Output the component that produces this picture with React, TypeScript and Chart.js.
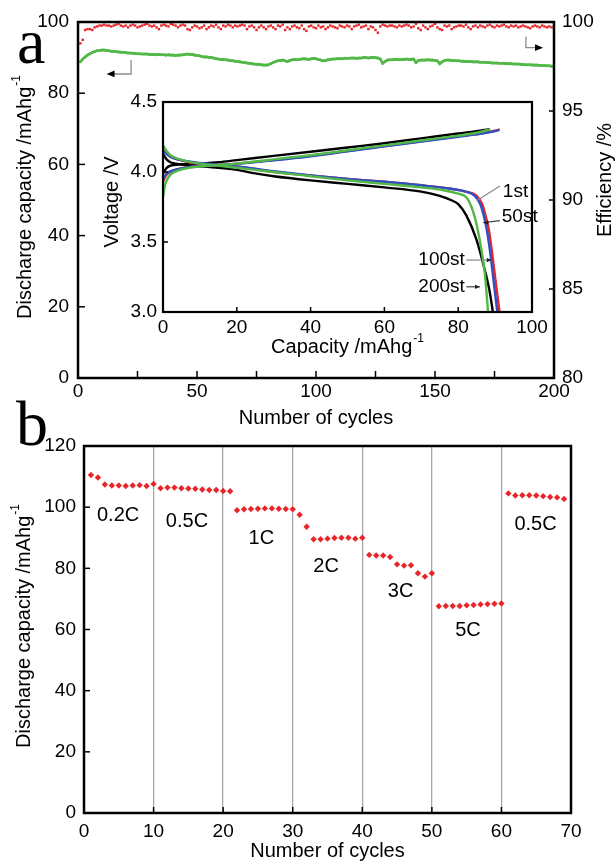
import React, { useEffect, useRef } from "react";
import { Chart, registerables } from "chart.js";

Chart.register(...registerables);

const SANS = "'Liberation Sans', Arial, Helvetica, sans-serif";
const SERIF = "'Liberation Serif', 'Times New Roman', serif";

const GREEN = "#52b848";
const RED = "#e8262a";
const BLUE = "#2f4fc4";
const BLACK = "#000000";

// ---------- Panel a: cycling at constant rate ----------
const cycleCapacity = [
  88.8, 89.6, 90.2, 90.7, 91.1, 91.4, 91.7, 91.9, 92.0, 92.1,
  92.1, 92.0, 91.9, 91.8, 91.7, 91.7, 91.6, 91.5, 91.5, 91.4,
  91.3, 91.3, 91.2, 91.2, 91.1, 91.1, 91.0, 91.0, 91.0, 90.9,
  90.9, 90.9, 90.8, 90.9, 90.8, 90.8, 90.7, 90.8, 90.7, 90.7,
  90.6, 90.7, 90.7, 90.8, 90.9, 91.0, 90.9, 90.9, 90.7, 90.6,
  90.5, 90.3, 90.2, 90.2, 90.1, 90.0, 89.9, 89.7, 89.6, 89.5,
  89.5, 89.4, 89.3, 89.2, 89.1, 89.0, 88.9, 88.8, 88.7, 88.6,
  88.5, 88.4, 88.3, 88.2, 88.1, 88.1, 88.0, 87.9, 87.9, 88.0,
  88.3, 88.6, 88.9, 89.1, 89.2, 89.3, 89.1, 88.9, 89.2, 89.4,
  89.5, 89.4, 89.5, 89.6, 89.7, 89.6, 89.5, 89.7, 89.8, 89.7,
  89.5, 89.3, 89.1, 89.2, 89.4, 89.5, 89.6, 89.6, 89.7, 89.7,
  89.7, 89.8, 89.8, 89.8, 89.9, 89.9, 89.8, 89.9, 89.9, 90.0,
  90.0, 89.9, 90.0, 90.0, 90.0, 89.9, 89.6, 88.4, 88.9, 89.3,
  89.4, 89.4, 89.5, 89.5, 89.4, 89.5, 89.5, 89.6, 89.5, 89.5,
  89.6, 88.6, 89.2, 89.3, 89.3, 89.3, 89.4, 89.3, 89.3, 89.2,
  89.1, 88.3, 88.8, 89.2, 89.3, 89.3, 89.2, 89.2, 89.1, 89.1,
  89.0, 89.0, 88.9, 88.9, 88.9, 88.8, 88.8, 88.8, 88.7, 88.7,
  88.7, 88.6, 88.6, 88.5, 88.5, 88.5, 88.4, 88.4, 88.4, 88.3,
  88.3, 88.3, 88.2, 88.2, 88.2, 88.1, 88.1, 88.0, 88.0, 88.0,
  87.9, 87.9, 87.9, 87.8, 87.8, 87.8, 87.7, 87.7, 87.6, 87.6,
];

const cycleEfficiency = [
  98.8, 99.0, 99.55, 99.6, 99.6, 99.55, 99.7, 99.75, 99.8, 99.8,
  99.85, 99.8, 99.8, 99.75, 99.8, 99.85, 99.9, 99.8, 99.75, 99.8,
  99.7, 99.8, 99.85, 99.8, 99.7, 99.75, 99.8, 99.85, 99.9, 99.8,
  99.75, 99.8, 99.7, 99.6, 99.8, 99.85, 99.8, 99.75, 99.9, 99.85,
  99.8, 99.7, 99.8, 99.85, 99.8, 99.6, 99.55, 99.7, 99.8, 99.75,
  99.65, 99.7, 99.8, 99.6, 99.7, 99.8, 99.75, 99.85, 99.7, 99.6,
  99.8, 99.75, 99.85, 99.8, 99.7, 99.8, 99.75, 99.8, 99.85, 99.8,
  99.6, 99.75, 99.8, 99.7, 99.55, 99.7, 99.8, 99.7, 99.6, 99.75,
  99.8, 99.7, 99.6, 99.8, 99.75, 99.85, 99.55, 99.7, 99.6, 99.75,
  99.8, 99.7, 99.65, 99.8, 99.6, 99.5, 99.75, 99.8, 99.7, 99.65,
  99.8, 99.7, 99.75, 99.6, 99.7, 99.8, 99.75, 99.7, 99.65, 99.8,
  99.75, 99.7, 99.8, 99.75, 99.6, 99.75, 99.8, 99.85, 99.7, 99.75,
  99.8, 99.6, 99.75, 99.7, 99.55, 99.4, 99.75, 99.85, 99.8, 99.75,
  99.8, 99.8, 99.75, 99.7, 99.8, 99.75, 99.8, 99.85, 99.8, 99.7,
  99.75, 99.9, 99.65, 99.55, 99.8, 99.7, 99.6, 99.75, 99.8, 99.9,
  99.7, 99.6, 99.55, 99.8, 99.75, 99.8, 99.6, 99.7, 99.75, 99.8,
  99.8, 99.75, 99.85, 99.7, 99.6, 99.75, 99.8, 99.7, 99.8, 99.75,
  99.7, 99.8, 99.85, 99.75, 99.7, 99.8, 99.75, 99.8, 99.85, 99.75,
  99.7, 99.8, 99.75, 99.8, 99.7, 99.75, 99.8, 99.75, 99.7, 99.65,
  99.75, 99.8, 99.75, 99.7, 99.8, 99.75, 99.7, 99.75, 99.7, 99.75,
];

const cycleNumbers = cycleCapacity.map((_, i) => i + 1);

// arrow marks pointing to each axis: [vertical-line cycle, top value, bottom value, arrow tip cycle]
const capacityArrow = [22.3, 89.3, 85.4, 12.0];
const efficiencyArrow = [188.2, 99.17, 98.56, 195.4];

// ---------- Inset: voltage profiles [capacity, voltage] ----------
const charge1st = [[0, 3.93], [0.5, 3.96], [1, 3.98], [2, 4.0], [4, 4.02], [7, 4.035], [10, 4.045], [15, 4.05], [20, 4.06], [30, 4.085], [40, 4.115], [50, 4.15], [60, 4.185], [70, 4.22], [80, 4.255], [86, 4.275], [90, 4.295], [91.3, 4.305]];
const discharge1st = [[0, 4.16], [1, 4.13], [2, 4.11], [4, 4.09], [7, 4.07], [10, 4.06], [15, 4.05], [20, 4.04], [30, 4.0], [40, 3.975], [50, 3.95], [60, 3.93], [70, 3.905], [78, 3.88], [82, 3.86], [85, 3.83], [86.5, 3.77], [87.5, 3.68], [88.3, 3.59], [89.2, 3.42], [90.1, 3.23], [91.2, 3.0]];
const charge50st = [[0, 3.95], [0.5, 3.97], [1, 3.99], [2, 4.005], [4, 4.02], [7, 4.035], [10, 4.045], [15, 4.05], [20, 4.058], [30, 4.083], [40, 4.112], [50, 4.148], [60, 4.183], [70, 4.218], [80, 4.252], [86, 4.272], [90, 4.292], [91, 4.3]];
const discharge50st = [[0, 4.15], [1, 4.13], [2, 4.11], [4, 4.09], [7, 4.075], [10, 4.065], [15, 4.05], [20, 4.04], [30, 4.005], [40, 3.975], [50, 3.95], [60, 3.93], [70, 3.905], [78, 3.88], [82, 3.86], [84.5, 3.83], [86, 3.77], [87, 3.68], [87.8, 3.58], [88.7, 3.42], [89.6, 3.22], [90.6, 3.0]];
const charge100st = [[0, 3.99], [0.5, 4.01], [1, 4.03], [2, 4.045], [5, 4.055], [10, 4.06], [15, 4.07], [20, 4.085], [30, 4.115], [40, 4.145], [50, 4.175], [60, 4.205], [70, 4.24], [80, 4.275], [86, 4.295], [88.5, 4.305]];
const discharge100st = [[0, 4.13], [1, 4.09], [2, 4.07], [3.5, 4.06], [7, 4.045], [10, 4.04], [15, 4.03], [20, 4.015], [25, 3.99], [30, 3.97], [40, 3.94], [50, 3.915], [60, 3.89], [70, 3.86], [75, 3.83], [78, 3.8], [80, 3.77], [82.2, 3.69], [84.9, 3.52], [87.2, 3.3], [88.5, 3.15], [89.4, 3.0]];
const charge200st = [[0, 3.82], [0.5, 3.9], [1, 3.94], [2, 3.98], [4, 4.01], [7, 4.03], [10, 4.04], [15, 4.05], [20, 4.06], [25, 4.075], [30, 4.09], [35, 4.105], [40, 4.12], [50, 4.155], [60, 4.19], [70, 4.225], [80, 4.26], [85, 4.28], [88.7, 4.305]];
const discharge200st = [[0, 4.19], [1, 4.15], [2, 4.12], [3.5, 4.1], [6, 4.08], [10, 4.06], [15, 4.045], [20, 4.03], [25, 4.015], [30, 4.0], [35, 3.985], [40, 3.97], [50, 3.94], [60, 3.915], [70, 3.89], [76, 3.87], [80, 3.845], [82.2, 3.82], [84, 3.72], [85.8, 3.52], [87.2, 3.28], [88.1, 3.0]];

// inset labels: text, anchor capacity, anchor voltage, align, leader from/to [cap, V, cap, V]
const insetLabels = ["1st", "50st", "100st", "200st"];
const insetLabelCap = [92.1, 91.8, 81.8, 81.8];
const insetLabelVolt = [3.86, 3.68, 3.371, 3.18];
const insetLabelAlign = ["left", "left", "right", "right"];
const insetLeaders = [
  [91.3, 3.9, 85.0, 3.795],
  [91.3, 3.652, 86.8, 3.638],
  [82.2, 3.371, 89.1, 3.371],
  [82.2, 3.18, 85.9, 3.18],
];

// ---------- Panel b: rate capability ----------
const rateCapacity = [
  110.5, 109.7, 107.4, 107.1, 107.1, 106.9, 107.1, 107.2, 106.9, 107.6,
  106.2, 106.4, 106.4, 106.2, 106.1, 106.0, 105.8, 105.6, 105.6, 105.3, 105.2,
  99.0, 99.3, 99.4, 99.5, 99.6, 99.6, 99.5, 99.4, 99.3, 97.5, 93.6,
  89.5, 89.5, 89.7, 89.9, 90.0, 90.0, 89.7, 90.0,
  84.4, 84.2, 84.2, 83.7, 81.3, 80.9, 81.0, 78.4, 77.3, 78.4,
  67.6, 67.7, 67.7, 67.7, 67.9, 68.0, 68.2, 68.3, 68.4, 68.5,
  104.5, 103.8, 103.9, 103.9, 103.8, 103.6, 103.3, 103.2, 102.7,
];
const rateCycles = rateCapacity.map((_, i) => i + 1);
const rateNames = ["0.2C", "0.5C", "1C", "2C", "3C", "5C", "0.5C"];
const rateNameCycle = [4.9, 14.8, 25.5, 34.8, 45.5, 55.2, 64.9];
const rateNameCapacity = [97.4, 95.3, 89.8, 80.6, 72.4, 59.8, 94.2];

// ---------- helpers ----------
function drawTitle(ctx: CanvasRenderingContext2D, text: string, sup: string, x: number, y: number, rot: number, size: number) {
  ctx.save();
  ctx.translate(x, y);
  ctx.rotate(rot);
  ctx.fillStyle = "#000";
  ctx.textBaseline = "middle";
  ctx.textAlign = "left";
  ctx.font = `${size}px ${SANS}`;
  const w1 = ctx.measureText(text).width;
  const supSize = Math.round(size * 0.62);
  ctx.font = `${supSize}px ${SANS}`;
  const w2 = sup ? ctx.measureText(sup).width + 1 : 0;
  const start = -(w1 + w2) / 2;
  ctx.font = `${size}px ${SANS}`;
  ctx.fillText(text, start, 0);
  if (sup) {
    ctx.font = `${supSize}px ${SANS}`;
    ctx.fillText(sup, start + w1 + 1, -size * 0.42);
  }
  ctx.restore();
}

function arrowHead(ctx: CanvasRenderingContext2D, x: number, y: number, dir: number, size = 7) {
  ctx.beginPath();
  ctx.moveTo(x, y);
  ctx.lineTo(x - dir * size, y - size * 0.42);
  ctx.lineTo(x - dir * size, y + size * 0.42);
  ctx.closePath();
  ctx.fill();
}

type TickSpec = { axis: string; step: number; len: number; side: string };

function framePlugin(id: string, ticks: TickSpec[], frameWidth: number, extra: (chart: any) => void) {
  return {
    id,
    afterDraw(chart: any) {
      const ctx: CanvasRenderingContext2D = chart.ctx;
      const { left, right, top, bottom } = chart.chartArea;
      ctx.save();
      ctx.strokeStyle = "#000";
      ctx.lineWidth = 1.5;
      for (const t of ticks) {
        const s = chart.scales[t.axis];
        const n = Math.round((s.max - s.min) / t.step);
        for (let i = 0; i <= n; i++) {
          const v = s.min + i * t.step;
          const p = s.getPixelForValue(v);
          ctx.beginPath();
          if (t.side === "bottom") {
            ctx.moveTo(p, bottom);
            ctx.lineTo(p, bottom - t.len);
          } else if (t.side === "left") {
            ctx.moveTo(left, p);
            ctx.lineTo(left + t.len, p);
          } else {
            ctx.moveTo(right, p);
            ctx.lineTo(right - t.len, p);
          }
          ctx.stroke();
        }
      }
      ctx.lineWidth = frameWidth;
      ctx.strokeRect(left, top, right - left, bottom - top);
      ctx.restore();
      ctx.save();
      extra(chart);
      ctx.restore();
    },
  };
}

const tickFont = { family: SANS, size: 19 };
const hidden = { display: false, drawTicks: false };

function makePanelA(canvas: HTMLCanvasElement) {
  const plugin = framePlugin(
    "frameA",
    [
      { axis: "x", step: 25, len: 7, side: "bottom" },
      { axis: "y", step: 20, len: 7, side: "left" },
      { axis: "y2", step: 5, len: 5, side: "right" },
    ],
    2.5,
    (chart) => {
      const ctx: CanvasRenderingContext2D = chart.ctx;
      const xs = chart.scales.x, ys = chart.scales.y, y2 = chart.scales.y2;
      const area = chart.chartArea;
      drawTitle(ctx, "Discharge capacity /mAhg", "-1", 25, 197, -Math.PI / 2, 20);
      drawTitle(ctx, "Efficiency /%", "", 605, 180, -Math.PI / 2, 20);
      drawTitle(ctx, "Number of cycles", "", (area.left + area.right) / 2, 418, 0, 20);
      ctx.fillStyle = "#000";
      ctx.font = `64px ${SERIF}`;
      ctx.textAlign = "left";
      ctx.textBaseline = "alphabetic";
      ctx.fillText("a", 17, 63);
      // arrow to capacity axis
      ctx.strokeStyle = "#8a8a8a";
      ctx.lineWidth = 1.3;
      let vx = xs.getPixelForValue(capacityArrow[0]);
      let yt = ys.getPixelForValue(capacityArrow[1]);
      let yb = ys.getPixelForValue(capacityArrow[2]);
      let tip = xs.getPixelForValue(capacityArrow[3]);
      ctx.beginPath();
      ctx.moveTo(vx, yt);
      ctx.lineTo(vx, yb);
      ctx.lineTo(tip + 5, yb);
      ctx.stroke();
      ctx.fillStyle = "#000";
      arrowHead(ctx, tip, yb, -1, 8);
      // arrow to efficiency axis
      vx = xs.getPixelForValue(efficiencyArrow[0]);
      yt = y2.getPixelForValue(efficiencyArrow[1]);
      yb = y2.getPixelForValue(efficiencyArrow[2]);
      tip = xs.getPixelForValue(efficiencyArrow[3]);
      ctx.beginPath();
      ctx.moveTo(vx, yt);
      ctx.lineTo(vx, yb);
      ctx.lineTo(tip - 5, yb);
      ctx.stroke();
      arrowHead(ctx, tip, yb, 1, 8);
    }
  );
  return new Chart(canvas, {
    type: "line",
    data: {
      datasets: [
        {
          label: "Discharge capacity",
          data: cycleNumbers.map((c, i) => ({ x: c, y: cycleCapacity[i] })),
          yAxisID: "y",
          borderColor: GREEN,
          backgroundColor: GREEN,
          borderWidth: 2.6,
          pointRadius: 1.5,
          pointBorderWidth: 0,
          tension: 0,
        },
        {
          label: "Efficiency",
          data: cycleNumbers.map((c, i) => ({ x: c, y: cycleEfficiency[i] })),
          yAxisID: "y2",
          showLine: false,
          borderColor: RED,
          backgroundColor: RED,
          pointStyle: "rect",
          pointRadius: 1.7,
          pointBorderWidth: 0,
        },
      ],
    },
    options: {
      responsive: false,
      animation: false,
      layout: { padding: { top: 22, left: 0, right: 0, bottom: 0 } },
      plugins: { legend: { display: false }, tooltip: { enabled: false } },
      scales: {
        x: {
          type: "linear", min: 0, max: 200,
          ticks: { stepSize: 50, font: tickFont, color: "#000", padding: 2, maxRotation: 0 },
          grid: hidden, border: { display: false },
          afterFit: (s: any) => { s.height = 62; },
        },
        y: {
          type: "linear", position: "left", min: 0, max: 100,
          ticks: { stepSize: 20, font: tickFont, color: "#000", padding: 9 },
          grid: hidden, border: { display: false },
          afterFit: (s: any) => { s.width = 78; },
        },
        y2: {
          type: "linear", position: "right", min: 80, max: 100,
          ticks: { stepSize: 5, font: tickFont, color: "#000", padding: 8 },
          grid: hidden, border: { display: false },
          afterFit: (s: any) => { s.width = 62; },
        },
      },
    } as any,
    plugins: [plugin],
  });
}

function makeInset(canvas: HTMLCanvasElement) {
  // first entries are drawn on top
  const curves = [
    [charge200st, GREEN], [discharge200st, GREEN],
    [charge50st, BLUE], [discharge50st, BLUE],
    [charge1st, RED], [discharge1st, RED],
    [charge100st, BLACK], [discharge100st, BLACK],
  ] as [number[][], string][];
  const plugin = framePlugin(
    "frameInset",
    [
      { axis: "x", step: 20, len: 5, side: "bottom" },
      { axis: "y", step: 0.5, len: 5, side: "left" },
    ],
    2.2,
    (chart) => {
      const ctx: CanvasRenderingContext2D = chart.ctx;
      const xs = chart.scales.x, ys = chart.scales.y;
      const area = chart.chartArea;
      drawTitle(ctx, "Voltage /V", "", 22, 122, -Math.PI / 2, 20);
      drawTitle(ctx, "Capacity /mAhg", "-1", (area.left + area.right) / 2, 267, 0, 20);
      ctx.font = `19px ${SANS}`;
      ctx.textBaseline = "middle";
      insetLabels.forEach((t, i) => {
        const [c1, v1, c2, v2] = insetLeaders[i];
        const x1 = xs.getPixelForValue(c1), y1 = ys.getPixelForValue(v1);
        const x2 = xs.getPixelForValue(c2), y2 = ys.getPixelForValue(v2);
        ctx.strokeStyle = i === 0 || i === 2 ? "#8a8a8a" : "#444";
        ctx.lineWidth = 1.2;
        ctx.beginPath();
        ctx.moveTo(x1, y1);
        ctx.lineTo(x2, y2);
        ctx.stroke();
        if (i > 0) {
          ctx.fillStyle = "#222";
          arrowHead(ctx, x2, y2, x2 > x1 ? 1 : -1, 5);
        }
        ctx.fillStyle = "#000";
        ctx.textAlign = insetLabelAlign[i] as CanvasTextAlign;
        ctx.fillText(t, xs.getPixelForValue(insetLabelCap[i]), ys.getPixelForValue(insetLabelVolt[i]));
      });
    }
  );
  return new Chart(canvas, {
    type: "line",
    data: {
      datasets: curves.map(([pts, col], i) => ({
        label: "curve" + i,
        data: pts.map(([x, y]) => ({ x, y })),
        borderColor: col,
        backgroundColor: col,
        borderWidth: 2.4,
        pointRadius: 0,
        cubicInterpolationMode: "monotone",
        fill: false,
      })),
    },
    options: {
      responsive: false,
      animation: false,
      layout: { padding: { top: 22, left: 0, right: 38, bottom: 0 } },
      plugins: { legend: { display: false }, tooltip: { enabled: false } },
      scales: {
        x: {
          type: "linear", min: 0, max: 100,
          ticks: { stepSize: 20, font: tickFont, color: "#000", padding: 4, maxRotation: 0 },
          grid: hidden, border: { display: false },
          afterFit: (s: any) => { s.height = 68; },
        },
        y: {
          type: "linear", min: 3.0, max: 4.5,
          ticks: { stepSize: 0.5, font: tickFont, color: "#000", padding: 6, callback: (v: any) => Number(v).toFixed(1) },
          grid: hidden, border: { display: false },
          afterFit: (s: any) => { s.width = 73; },
        },
      },
    } as any,
    plugins: [plugin],
  });
}

function makePanelB(canvas: HTMLCanvasElement) {
  const plugin = framePlugin(
    "frameB",
    [
      { axis: "x", step: 10, len: 6, side: "bottom" },
      { axis: "y", step: 20, len: 6, side: "left" },
    ],
    2.5,
    (chart) => {
      const ctx: CanvasRenderingContext2D = chart.ctx;
      const xs = chart.scales.x, ys = chart.scales.y;
      const area = chart.chartArea;
      drawTitle(ctx, "Discharge capacity /mAhg", "-1", 24, 226, -Math.PI / 2, 20);
      drawTitle(ctx, "Number of cycles", "", (area.left + area.right) / 2, 451, 0, 20);
      ctx.fillStyle = "#000";
      ctx.font = `64px ${SERIF}`;
      ctx.textAlign = "left";
      ctx.textBaseline = "alphabetic";
      ctx.fillText("b", 16, 45);
      ctx.font = `20px ${SANS}`;
      ctx.textAlign = "center";
      ctx.textBaseline = "middle";
      rateNames.forEach((t, i) => {
        ctx.fillText(t, xs.getPixelForValue(rateNameCycle[i]), ys.getPixelForValue(rateNameCapacity[i]));
      });
    }
  );
  return new Chart(canvas, {
    type: "line",
    data: {
      datasets: [
        {
          label: "Rate capability",
          data: rateCycles.map((c, i) => ({ x: c, y: rateCapacity[i] })),
          showLine: false,
          borderColor: RED,
          backgroundColor: RED,
          pointStyle: "rectRot",
          pointRadius: 3.2,
          pointBorderWidth: 0,
        },
      ],
    },
    options: {
      responsive: false,
      animation: false,
      layout: { padding: { top: 46, left: 0, right: 45, bottom: 0 } },
      plugins: { legend: { display: false }, tooltip: { enabled: false } },
      scales: {
        x: {
          type: "linear", min: 0, max: 70,
          ticks: { stepSize: 10, font: tickFont, color: "#000", padding: 7, maxRotation: 0 },
          grid: {
            display: true, drawTicks: false, lineWidth: 1.3,
            color: (c: any) => (c.tick && c.tick.value > 0 && c.tick.value < 70 ? "#a8a8a8" : "rgba(0,0,0,0)"),
          },
          border: { display: false },
          afterFit: (s: any) => { s.height = 53; },
        },
        y: {
          type: "linear", min: 0, max: 120,
          ticks: { stepSize: 20, font: tickFont, color: "#000", padding: 8 },
          grid: hidden, border: { display: false },
          afterFit: (s: any) => { s.width = 84; },
        },
      },
    } as any,
    plugins: [plugin],
  });
}

export default function App() {
  const aRef = useRef<HTMLCanvasElement>(null);
  const iRef = useRef<HTMLCanvasElement>(null);
  const bRef = useRef<HTMLCanvasElement>(null);
  useEffect(() => {
    const charts = [makePanelA(aRef.current!), makeInset(iRef.current!), makePanelB(bRef.current!)];
    return () => charts.forEach((c) => c.destroy());
  }, []);
  return (
    <div style={{ position: "fixed", left: 0, top: 0, width: 616, height: 866, background: "#fff", overflow: "hidden" }}>
      <canvas ref={aRef} width={616} height={440} style={{ position: "absolute", left: 0, top: 0, width: 616, height: 440 }} />
      <canvas ref={iRef} width={480} height={300} style={{ position: "absolute", left: 90, top: 80, width: 480, height: 300 }} />
      <canvas ref={bRef} width={616} height={466} style={{ position: "absolute", left: 0, top: 400, width: 616, height: 466 }} />
    </div>
  );
}
